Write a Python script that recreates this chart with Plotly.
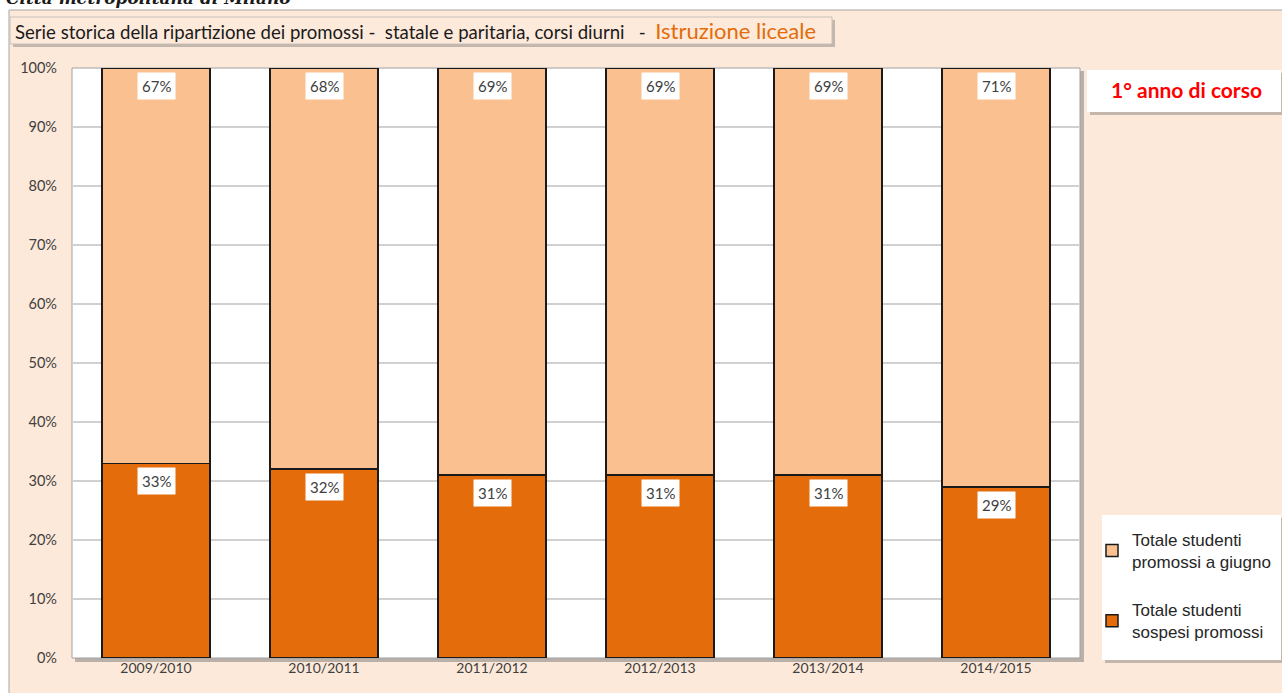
import plotly.graph_objects as go

# Anni scolastici e quote percentuali (1° anno, istruzione liceale)
anni = ["2009/2010", "2010/2011", "2011/2012", "2012/2013", "2013/2014", "2014/2015"]
sospesi_promossi = [33, 32, 31, 31, 31, 29]
promossi_giugno = [67, 68, 69, 69, 69, 71]
tick_vals = [0, 10, 20, 30, 40, 50, 60, 70, 80, 90, 100]
tick_text = [f"{v}%" for v in tick_vals]

C_DARK = "#E46C0A"
C_LIGHT = "#FAC090"
PEACH = "#FDE9D9"
CAL = "Lato, 'Open Sans', sans-serif"

W, H = 1282, 693
L, R, T, B = 72, 1080, 68, 658
PW, PH = R - L, B - T


def px(x):
    return (x - L) / PW


def py(y):
    return (B - y) / PH


fig = go.Figure()
fig.add_trace(go.Bar(
    x=anni, y=sospesi_promossi, name="Totale studenti<br>sospesi promossi",
    marker=dict(color=C_DARK, line=dict(color="#1a1a1a", width=1.5)),
    width=0.645, legendgroup="sospesi", legendrank=2, hoverinfo="skip",
))
fig.add_trace(go.Bar(
    x=anni, y=promossi_giugno, name="Totale studenti<br>promossi a giugno",
    marker=dict(color=C_LIGHT, line=dict(color="#1a1a1a", width=1.5)),
    width=0.645, legendgroup="giugno", legendrank=1, hoverinfo="skip",
))

shapes = []
# outer peach panel
shapes.append(dict(type="rect", xref="paper", yref="paper", layer="below",
                   x0=px(9), x1=px(W + 5), y0=py(H + 5), y1=py(10),
                   fillcolor=PEACH, line=dict(color="#A6A6A6", width=1)))
# title box shadow + box
shapes.append(dict(type="rect", xref="paper", yref="paper", layer="below",
                   x0=px(13), x1=px(835), y0=py(47), y1=py(20),
                   fillcolor="#9C9590", line=dict(width=0), opacity=0.6))
shapes.append(dict(type="rect", xref="paper", yref="paper", layer="below",
                   x0=px(10), x1=px(832), y0=py(44), y1=py(17),
                   fillcolor="#FDEADB", line=dict(color="#C8C0BA", width=1)))
# "1° anno" box shadow + box
shapes.append(dict(type="rect", xref="paper", yref="paper", layer="below",
                   x0=px(1090), x1=px(1284), y0=py(115), y1=py(73),
                   fillcolor="#9C9590", line=dict(width=0), opacity=0.6))
shapes.append(dict(type="rect", xref="paper", yref="paper", layer="below",
                   x0=px(1087), x1=px(1281), y0=py(112), y1=py(70),
                   fillcolor="white", line=dict(width=0)))
# legend box shadow + box
shapes.append(dict(type="rect", xref="paper", yref="paper", layer="below",
                   x0=px(1105), x1=px(1285), y0=py(663), y1=py(518),
                   fillcolor="#9C9590", line=dict(width=0), opacity=0.6))
shapes.append(dict(type="rect", xref="paper", yref="paper", layer="below",
                   x0=px(1102), x1=px(1281), y0=py(660), y1=py(515),
                   fillcolor="white", line=dict(width=0)))
# plot area shadow + white plot area
shapes.append(dict(type="rect", xref="paper", yref="paper", layer="below",
                   x0=px(L + 3), x1=px(R + 4), y0=py(B + 4), y1=py(T + 3),
                   fillcolor="#8F8A86", line=dict(width=0), opacity=0.6))
shapes.append(dict(type="rect", xref="paper", yref="paper", layer="below",
                   x0=0, x1=1, y0=0, y1=1,
                   fillcolor="white", line=dict(color="#A0A0A0", width=1)))

annotations = []
# value labels inside each segment
for i, a in enumerate(anni):
    for val, top in ((sospesi_promossi[i], sospesi_promossi[i]),
                     (promossi_giugno[i], sospesi_promossi[i] + promossi_giugno[i])):
        annotations.append(dict(
            x=a, y=top, xref="x", yref="y", text=f"{val}%", showarrow=False,
            yanchor="top", yshift=-4, bgcolor="white", borderpad=4,
            font=dict(family=CAL, size=15, color="#404040"),
        ))

annotations.append(dict(
    xref="paper", yref="paper", x=px(13), y=py(30.5), xanchor="left", yanchor="middle",
    showarrow=False,
    text=("Serie storica della ripartizione dei promossi -  statale e paritaria, corsi diurni   -  "
          f"<span style='color:{C_DARK};font-size:22px'>Istruzione liceale</span>"),
    font=dict(family=CAL, size=18.6, color="#1a1a1a"),
))
annotations.append(dict(
    xref="paper", yref="paper", x=px(4), y=py(10), xanchor="left", yanchor="bottom",
    showarrow=False, text="<b><i>Città metropolitana di Milano</i></b>",
    font=dict(family="'DejaVu Serif', serif", size=17, color="#1a1a1a"),
))
annotations.append(dict(
    xref="paper", yref="paper", x=px(1186), y=py(90), xanchor="center", yanchor="middle",
    showarrow=False, text="<b>1° anno di corso</b>",
    font=dict(family=CAL, size=21, color="#FF0000"),
))

fig.update_layout(
    width=W, height=H,
    margin=dict(l=L, r=W - R, t=T, b=H - B, pad=0, autoexpand=False),
    paper_bgcolor="white", plot_bgcolor="rgba(0,0,0,0)",
    barmode="stack", bargap=0.355,
    showlegend=True,
    legend=dict(
        x=px(1092), y=py(522), xanchor="left", yanchor="top",
        bgcolor="rgba(0,0,0,0)", borderwidth=0,
        traceorder="grouped", tracegroupgap=23,
        font=dict(family="'Liberation Sans', Arial, sans-serif", size=17, color="#262626"),
        itemwidth=30,
    ),
    shapes=shapes, annotations=annotations,
    xaxis=dict(showgrid=False, showline=False, ticks="",
               tickfont=dict(family=CAL, size=14, color="#404040")),
    yaxis=dict(range=[0, 100], tickvals=tick_vals, ticktext=tick_text,
               showgrid=True, gridcolor="#D0D0D0", gridwidth=1.5,
               zeroline=False, showline=False, ticks="", ticklabelstandoff=14,
               tickfont=dict(family=CAL, size=14.5, color="#404040")),
)

fig.write_html("out.html")
